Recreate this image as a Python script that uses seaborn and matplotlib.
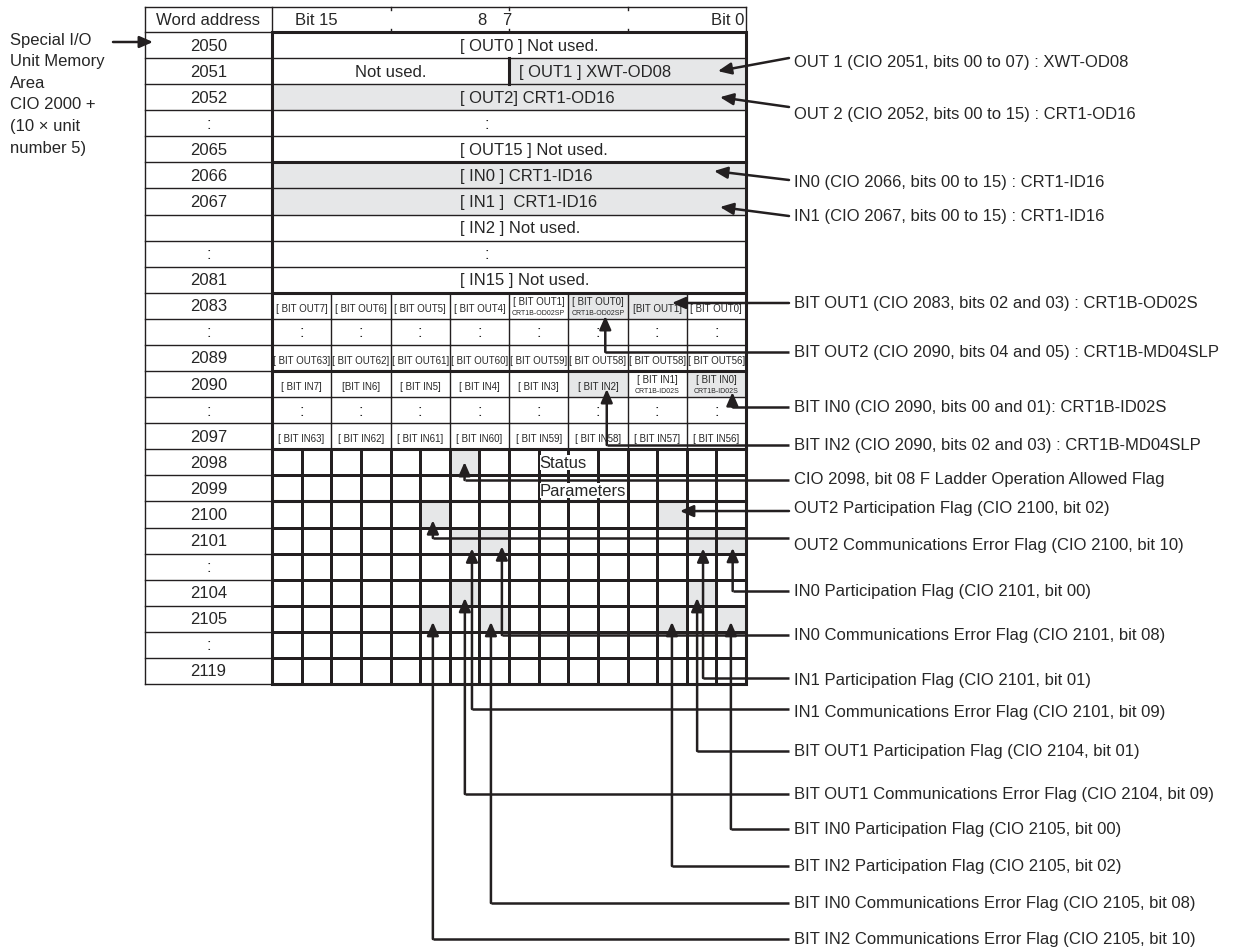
import matplotlib
matplotlib.use("Agg")
import matplotlib.pyplot as plt
from matplotlib.colors import ListedColormap
from matplotlib.patches import Rectangle
import numpy as np
import seaborn as sns

sns.set_style("white")
plt.rcParams["font.family"] = ["Liberation Sans", "DejaVu Sans"]

INK = "#231f20"
GRAY = "#e6e7e8"

# ── Data ──────────────────────────────────────────────────────────────────────
ROW_LABELS = ["2050", "2051", "2052", ":", "2065", "2066", "2067", "", ":", "2081",
              "2083", ":", "2089", "2090", ":", "2097",
              "2098", "2099", "2100", "2101", ":", "2104", "2105", ":", "2119"]

# word-wide rows (row 1 is split into two bytes)
WORD_TEXT = ["[ OUT0 ] Not used.", None, "[ OUT2] CRT1-OD16", ":", "[ OUT15 ] Not used.",
             "[ IN0 ] CRT1-ID16", "[ IN1 ]  CRT1-ID16", "[ IN2 ] Not used.", ":",
             "[ IN15 ] Not used."]
WORD_SHADE = [0, 0, 1, 0, 0, 1, 1, 0, 0, 0]
SPLIT_TEXT = ["Not used.", "[ OUT1 ] XWT-OD08"]
SPLIT_SHADE = [0, 1]

# two-bit rows 2083 .. 2097
BYTE_TEXT = [
    ["[ BIT OUT7]", "[ BIT OUT6]", "[ BIT OUT5]", "[ BIT OUT4]", "[ BIT OUT1]", "[ BIT OUT0]", "[BIT OUT1]", "[ BIT OUT0]"],
    [":"] * 8,
    ["[ BIT OUT63]", "[ BIT OUT62]", "[ BIT OUT61]", "[ BIT OUT60]", "[ BIT OUT59]", "[ BIT OUT58]", "[ BIT OUT58]", "[ BIT OUT56]"],
    ["[ BIT IN7]", "[BIT IN6]", "[ BIT IN5]", "[ BIT IN4]", "[ BIT IN3]", "[ BIT IN2]", "[ BIT IN1]", "[ BIT IN0]"],
    [":"] * 8,
    ["[ BIT IN63]", "[ BIT IN62]", "[ BIT IN61]", "[ BIT IN60]", "[ BIT IN59]", "[ BIT IN58]", "[ BIT IN57]", "[ BIT IN56]"],
]
BYTE_SUB = {(0, 4): "CRT1B-OD02SP", (0, 5): "CRT1B-OD02SP",
            (3, 6): "CRT1B-ID02S", (3, 7): "CRT1B-ID02S"}
BYTE_SHADE = [[0, 0, 0, 0, 0, 1, 1, 0],
              [0] * 8,
              [0] * 8,
              [0, 0, 0, 0, 0, 1, 0, 1],
              [0] * 8,
              [0] * 8]

# bit-level rows 2098 .. 2119 (16 columns, bit 15 on the left)
FLAG_SHADE = [
    [0, 0, 0, 0, 0, 0, 1, 0, 0, 0, 0, 0, 0, 0, 0, 0],
    [0] * 16,
    [0, 0, 0, 0, 0, 1, 0, 0, 0, 0, 0, 0, 0, 1, 0, 0],
    [0, 0, 0, 0, 0, 0, 1, 1, 0, 0, 0, 0, 0, 0, 1, 1],
    [0] * 16,
    [0, 0, 0, 0, 0, 0, 1, 0, 0, 0, 0, 0, 0, 0, 1, 0],
    [0, 0, 0, 0, 0, 1, 0, 1, 0, 0, 0, 0, 0, 1, 0, 1],
    [0] * 16,
    [0] * 16,
]

LEFT_NOTE = ["Special I/O", "Unit Memory", "Area", "CIO 2000 +", "(10 \u00d7 unit", "number 5)"]

CALLOUT_TEXT = [
    "OUT 1 (CIO 2051, bits 00 to 07) : XWT-OD08",
    "OUT 2 (CIO 2052, bits 00 to 15) : CRT1-OD16",
    "IN0 (CIO 2066, bits 00 to 15) : CRT1-ID16",
    "IN1 (CIO 2067, bits 00 to 15) : CRT1-ID16",
    "BIT OUT1 (CIO 2083, bits 02 and 03) : CRT1B-OD02S",
    "BIT OUT2 (CIO 2090, bits 04 and 05) : CRT1B-MD04SLP",
    "BIT IN0 (CIO 2090, bits 00 and 01): CRT1B-ID02S",
    "BIT IN2 (CIO 2090, bits 02 and 03) : CRT1B-MD04SLP",
    "CIO 2098, bit 08 F Ladder Operation Allowed Flag",
    "OUT2 Participation Flag (CIO 2100, bit 02)",
    "OUT2 Communications Error Flag (CIO 2100, bit 10)",
    "IN0 Participation Flag (CIO 2101, bit 00)",
    "IN0 Communications Error Flag (CIO 2101, bit 08)",
    "IN1 Participation Flag (CIO 2101, bit 01)",
    "IN1 Communications Error Flag (CIO 2101, bit 09)",
    "BIT OUT1 Participation Flag (CIO 2104, bit 01)",
    "BIT OUT1 Communications Error Flag (CIO 2104, bit 09)",
    "BIT IN0 Participation Flag (CIO 2105, bit 00)",
    "BIT IN2 Participation Flag (CIO 2105, bit 02)",
    "BIT IN0 Communications Error Flag (CIO 2105, bit 08)",
    "BIT IN2 Communications Error Flag (CIO 2105, bit 10)",
]
CALLOUT_KIND = ["direct"] * 5 + ["elbow"] * 4 + ["direct"] + ["elbow"] * 11
TIP_ROW = [1, 2, 5, 6, 10, 10, 13, 13, 16, 18, 18, 19, 19, 19, 19, 21, 21, 22, 22, 22, 22]
TIP_COL = [15.05, 15.12, 14.92, 15.12, 13.5, 11.25, 15.54, 11.3, 6.5, 13.77, 5.43,
           15.55, 7.76, 14.55, 6.75, 14.35, 6.51, 15.49, 13.5, 7.39, 5.43]

# ── Layout (pixels) ───────────────────────────────────────────────────────────
W, H = 1244, 953
X0, XA, XB = 145, 272, 746
CW = (XB - XA) / 16
Y_HEAD, Y0, RH = 8, 33, 26.08
N_ROWS = len(ROW_LABELS)
Y_BOT = Y0 + N_ROWS * RH

TIP_FRAC = [0.5, 0.5, 0.33, 0.71, 0.39, 0.89, 0.81, 0.69, 0.49, 0.37, 0.72,
            0.78, 0.72, 0.8, 0.8, 0.7, 0.7, 0.62, 0.62, 0.62, 0.62]
LABEL_Y = [62, 114, 182, 216, 304, 353, 408, 446, 480, 509, 546,
           592, 636, 681, 713, 752, 795, 830, 867, 904, 940]
LEADER_Y = [59, 108, 181, 217, 304, 353, 408, 446, 481, 512, 539,
            592, 636, 679, 710, 752, 795, 830, 867, 904, 940]
LEADER_X = 789
TEXT_X = 794

FS = 12
CELL_FS, SUB_FS = 7.0, 5.0
THIN, THICK = 1.0, 2.2


def row_top(i):
    return Y0 + i * RH


def col_x(c):
    return XA + c * CW


def hline(ax, y, x1, x2, lw=THIN):
    ax.plot([x1, x2], [y, y], color=INK, lw=lw, solid_capstyle="projecting", zorder=3)


def vline(ax, x, y1, y2, lw=THIN):
    ax.plot([x, x], [y1, y2], color=INK, lw=lw, solid_capstyle="projecting", zorder=3)


def shade(ax, x1, x2, y1, y2):
    ax.add_patch(Rectangle((x1, y1), x2 - x1, y2 - y1, facecolor=GRAY,
                           edgecolor="none", zorder=1))


ARROW = dict(arrowstyle="-|>,head_length=0.8,head_width=0.35", color=INK, lw=1.8,
             shrinkA=0, shrinkB=0, mutation_scale=10)


def leader(ax, pts):
    pts = list(pts)
    if len(pts) > 2:
        xs, ys = zip(*pts[:-1])
        ax.plot(xs, ys, color=INK, lw=1.8, solid_joinstyle="miter",
                solid_capstyle="butt", zorder=5)
    ax.annotate("", xy=pts[-1], xytext=pts[-2], arrowprops=ARROW, zorder=6)


fig = plt.figure(figsize=(W / 100, H / 100), dpi=100)

# flag grid rows drawn as a seaborn heatmap underneath the drawing layer
y16 = row_top(16)
ax_grid = fig.add_axes([XA / W, 1 - Y_BOT / H, (XB - XA) / W, (Y_BOT - y16) / H])
sns.heatmap(np.array(FLAG_SHADE), cmap=ListedColormap(["white", GRAY]), vmin=0, vmax=1,
            cbar=False, linewidths=0.75, linecolor=INK, xticklabels=False,
            yticklabels=False, ax=ax_grid)
ax_grid.set_zorder(0)

ax = fig.add_axes([0, 0, 1, 1])
ax.set_zorder(1)
ax.patch.set_alpha(0)
ax.set_xlim(0, W)
ax.set_ylim(H, 0)
ax.axis("off")

# ── header ──
hline(ax, Y_HEAD, X0, XB)
vline(ax, X0, Y_HEAD, Y_BOT)
vline(ax, XA, Y_HEAD, Y0)
vline(ax, XB, Y_HEAD, Y0)
for q in (4, 8, 12):
    vline(ax, col_x(q), Y_HEAD, Y_HEAD + 3)
    vline(ax, col_x(q), Y0 - 3, Y0)
yh = (Y_HEAD + Y0) / 2
ax.text((X0 + XA) / 2, yh, "Word address", ha="center", va="center", fontsize=FS)
ax.text(316, yh, "Bit 15", ha="center", va="center", fontsize=FS)
ax.text(482, yh, "8", ha="center", va="center", fontsize=FS)
ax.text(507, yh, "7", ha="center", va="center", fontsize=FS)
ax.text(728, yh, "Bit 0", ha="center", va="center", fontsize=FS)

# ── word address column ──
for i, lab in enumerate(ROW_LABELS):
    yt = row_top(i)
    hline(ax, yt, X0, XA)
    ax.text((X0 + XA) / 2, yt + RH / 2, lab, ha="center", va="center", fontsize=FS)
hline(ax, Y_BOT, X0, XA)

# ── word-wide rows ──
for i, txt in enumerate(WORD_TEXT):
    yt = row_top(i)
    if i == 1:
        xm = col_x(8)
        for k, s in enumerate(SPLIT_SHADE):
            xl, xr = (XA, xm) if k == 0 else (xm, XB)
            if s:
                shade(ax, xl, xr, yt, yt + RH)
        ax.text((XA + xm) / 2, yt + RH / 2, SPLIT_TEXT[0], ha="center", va="center", fontsize=FS)
        ax.text(xm + 10, yt + RH / 2, SPLIT_TEXT[1], ha="left", va="center", fontsize=FS)
        vline(ax, xm, yt, yt + RH, lw=THICK)
    else:
        if WORD_SHADE[i]:
            shade(ax, XA, XB, yt, yt + RH)
        if txt == ":":
            ax.text(487, yt + RH / 2, txt, ha="center", va="center", fontsize=FS)
        else:
            ax.text(460, yt + RH / 2, txt, ha="left", va="center", fontsize=FS)
    if i > 0:
        hline(ax, yt, XA, XB, lw=THICK if i == 5 else THIN)

# ── two-bit rows ──
for r, cells in enumerate(BYTE_TEXT):
    i = 10 + r
    yt = row_top(i)
    hline(ax, yt, XA, XB, lw=THICK if i in (10, 13) else THIN)
    for c, txt in enumerate(cells):
        xl, xr = col_x(2 * c), col_x(2 * c + 2)
        if BYTE_SHADE[r][c]:
            shade(ax, xl, xr, yt, yt + RH)
        if c > 0:
            vline(ax, xl, yt, yt + RH)
        sub = BYTE_SUB.get((r, c))
        if sub:
            ax.text((xl + xr) / 2, yt + 8, txt, ha="center", va="center", fontsize=CELL_FS)
            ax.text((xl + xr) / 2, yt + 19.5, sub, ha="center", va="center", fontsize=SUB_FS)
        elif txt == ":":
            ax.text((xl + xr) / 2, yt + RH / 2, txt, ha="center", va="center", fontsize=FS)
        else:
            ax.text((xl + xr) / 2, yt + RH / 2 + 2, txt, ha="center", va="center", fontsize=CELL_FS)

# ── flag rows ──
hline(ax, y16, XA, XB, lw=THICK)
hline(ax, row_top(18), XA, XB, lw=THICK)
bb = dict(facecolor="white", edgecolor="none", pad=0)
ax.text(col_x(9) + 1, row_top(16) + RH / 2, "Status", ha="left", va="center", fontsize=FS, bbox=bb, zorder=4)
ax.text(col_x(9) + 1, row_top(17) + RH / 2 + 2, "Parameters", ha="left", va="center", fontsize=FS, bbox=bb, zorder=4)

# bit area outer frame
ax.add_patch(Rectangle((XA, Y0), XB - XA, Y_BOT - Y0, fill=False, edgecolor=INK,
                       lw=THICK, zorder=3, joinstyle="miter"))

# ── left note ──
for k, line in enumerate(LEFT_NOTE):
    ax.text(10, 40 + k * 21.6, line, ha="left", va="center", fontsize=FS)
leader(ax, [(113, 43), (153, 43)])

# ── callouts ──
for txt, kind, r, c, f, ly, yl in zip(CALLOUT_TEXT, CALLOUT_KIND, TIP_ROW, TIP_COL,
                                      TIP_FRAC, LABEL_Y, LEADER_Y):
    tip = (col_x(c), row_top(r) + f * RH)
    if kind == "direct":
        leader(ax, [(LEADER_X, yl), tip])
    else:
        leader(ax, [(LEADER_X, yl), (tip[0], yl), tip])
    ax.text(TEXT_X, ly, txt, ha="left", va="center", fontsize=FS)

fig.savefig("out.png", dpi=100)
plt.close(fig)
